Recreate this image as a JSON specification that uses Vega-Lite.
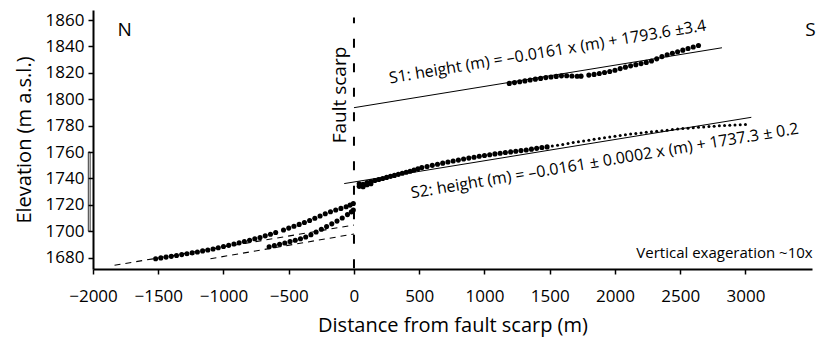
{
  "$schema": "https://vega.github.io/schema/vega-lite/v6.json",
  "width": 719,
  "height": 259,
  "autosize": "none",
  "padding": {"left": 93, "top": 10, "right": 6, "bottom": 73},
  "background": "white",
  "config": {
    "font": "Open Sans",
    "view": {"stroke": null},
    "axis": {
      "grid": false,
      "domainColor": "black",
      "domainWidth": 2,
      "tickColor": "black",
      "tickWidth": 1.5,
      "tickSize": 5,
      "labelColor": "black",
      "labelFont": "Open Sans",
      "labelFontSize": 17,
      "labelOverlap": false,
      "labelFlush": false,
      "titleColor": "black",
      "titleFont": "Open Sans",
      "titleFontSize": 20,
      "titleFontWeight": "normal"
    }
  },
  "datasets": {
    "pts": [
      {"set": "S1", "x": 1190, "y": 1812.0}, {"set": "S1", "x": 1230, "y": 1812.6}, {"set": "S1", "x": 1270, "y": 1813.3}, {"set": "S1", "x": 1310, "y": 1813.9},
      {"set": "S1", "x": 1350, "y": 1814.6}, {"set": "S1", "x": 1390, "y": 1815.2}, {"set": "S1", "x": 1430, "y": 1815.8}, {"set": "S1", "x": 1470, "y": 1816.4},
      {"set": "S1", "x": 1510, "y": 1816.9}, {"set": "S1", "x": 1550, "y": 1817.3}, {"set": "S1", "x": 1590, "y": 1817.7}, {"set": "S1", "x": 1630, "y": 1817.8},
      {"set": "S1", "x": 1670, "y": 1817.6}, {"set": "S1", "x": 1710, "y": 1817.4}, {"set": "S1", "x": 1740, "y": 1817.5}, {"set": "S1", "x": 1800, "y": 1818.3},
      {"set": "S1", "x": 1840, "y": 1818.8}, {"set": "S1", "x": 1880, "y": 1819.5}, {"set": "S1", "x": 1920, "y": 1820.2}, {"set": "S1", "x": 1960, "y": 1821.0},
      {"set": "S1", "x": 2000, "y": 1822.0}, {"set": "S1", "x": 2040, "y": 1823.2}, {"set": "S1", "x": 2080, "y": 1824.3}, {"set": "S1", "x": 2120, "y": 1825.3},
      {"set": "S1", "x": 2160, "y": 1826.2}, {"set": "S1", "x": 2200, "y": 1827.0}, {"set": "S1", "x": 2240, "y": 1827.9}, {"set": "S1", "x": 2280, "y": 1829.0},
      {"set": "S1", "x": 2320, "y": 1830.6}, {"set": "S1", "x": 2360, "y": 1832.3}, {"set": "S1", "x": 2400, "y": 1833.7}, {"set": "S1", "x": 2440, "y": 1834.8},
      {"set": "S1", "x": 2480, "y": 1836.0}, {"set": "S1", "x": 2520, "y": 1837.2}, {"set": "S1", "x": 2560, "y": 1838.4}, {"set": "S1", "x": 2600, "y": 1839.6},
      {"set": "S1", "x": 2640, "y": 1840.7},
      {"set": "S2", "x": 40, "y": 1734.0}, {"set": "S2", "x": 40, "y": 1736.0}, {"set": "S2", "x": 70, "y": 1735.5}, {"set": "S2", "x": 70, "y": 1733.8},
      {"set": "S2", "x": 100, "y": 1736.8}, {"set": "S2", "x": 100, "y": 1735.2}, {"set": "S2", "x": 130, "y": 1737.6}, {"set": "S2", "x": 130, "y": 1736.0},
      {"set": "S2", "x": 160, "y": 1738.4}, {"set": "S2", "x": 190, "y": 1739.2}, {"set": "S2", "x": 220, "y": 1740.0}, {"set": "S2", "x": 250, "y": 1740.8},
      {"set": "S2", "x": 280, "y": 1741.6}, {"set": "S2", "x": 310, "y": 1742.3}, {"set": "S2", "x": 340, "y": 1743.1}, {"set": "S2", "x": 370, "y": 1743.9},
      {"set": "S2", "x": 400, "y": 1744.7}, {"set": "S2", "x": 430, "y": 1745.5}, {"set": "S2", "x": 460, "y": 1746.4}, {"set": "S2", "x": 490, "y": 1747.3},
      {"set": "S2", "x": 520, "y": 1748.2}, {"set": "S2", "x": 560, "y": 1749.0}, {"set": "S2", "x": 600, "y": 1749.9}, {"set": "S2", "x": 640, "y": 1750.8},
      {"set": "S2", "x": 680, "y": 1751.6}, {"set": "S2", "x": 720, "y": 1752.4}, {"set": "S2", "x": 760, "y": 1753.2}, {"set": "S2", "x": 800, "y": 1753.9},
      {"set": "S2", "x": 840, "y": 1754.7}, {"set": "S2", "x": 880, "y": 1755.4}, {"set": "S2", "x": 920, "y": 1756.1}, {"set": "S2", "x": 960, "y": 1756.8},
      {"set": "S2", "x": 1000, "y": 1757.4}, {"set": "S2", "x": 1040, "y": 1758.0}, {"set": "S2", "x": 1080, "y": 1758.6}, {"set": "S2", "x": 1120, "y": 1759.1},
      {"set": "S2", "x": 1160, "y": 1759.6}, {"set": "S2", "x": 1200, "y": 1760.1}, {"set": "S2", "x": 1240, "y": 1760.6}, {"set": "S2", "x": 1280, "y": 1761.1},
      {"set": "S2", "x": 1320, "y": 1761.6}, {"set": "S2", "x": 1360, "y": 1762.2}, {"set": "S2", "x": 1400, "y": 1762.8}, {"set": "S2", "x": 1440, "y": 1763.4},
      {"set": "S2", "x": 1480, "y": 1763.9}, {"set": "S2", "x": 1520, "y": 1764.5}, {"set": "S2", "x": 1560, "y": 1765.1}, {"set": "S2", "x": 1600, "y": 1765.8},
      {"set": "S2", "x": 1640, "y": 1766.5}, {"set": "S2", "x": 1680, "y": 1767.2}, {"set": "S2", "x": 1720, "y": 1767.8}, {"set": "S2", "x": 1760, "y": 1768.4},
      {"set": "S2", "x": 1800, "y": 1769.0}, {"set": "S2", "x": 1840, "y": 1769.6}, {"set": "S2", "x": 1880, "y": 1770.2}, {"set": "S2", "x": 1920, "y": 1770.8},
      {"set": "S2", "x": 1960, "y": 1771.4}, {"set": "S2", "x": 2000, "y": 1772.0}, {"set": "S2", "x": 2040, "y": 1772.6}, {"set": "S2", "x": 2080, "y": 1773.1},
      {"set": "S2", "x": 2120, "y": 1773.6}, {"set": "S2", "x": 2160, "y": 1774.0}, {"set": "S2", "x": 2200, "y": 1774.4}, {"set": "S2", "x": 2240, "y": 1774.9},
      {"set": "S2", "x": 2280, "y": 1775.3}, {"set": "S2", "x": 2320, "y": 1775.8}, {"set": "S2", "x": 2360, "y": 1776.2}, {"set": "S2", "x": 2400, "y": 1776.6},
      {"set": "S2", "x": 2440, "y": 1777.0}, {"set": "S2", "x": 2480, "y": 1777.4}, {"set": "S2", "x": 2520, "y": 1777.8}, {"set": "S2", "x": 2560, "y": 1778.1},
      {"set": "S2", "x": 2600, "y": 1778.4}, {"set": "S2", "x": 2640, "y": 1778.7}, {"set": "S2", "x": 2680, "y": 1779.0}, {"set": "S2", "x": 2720, "y": 1779.3},
      {"set": "S2", "x": 2760, "y": 1779.6}, {"set": "S2", "x": 2800, "y": 1779.9}, {"set": "S2", "x": 2840, "y": 1780.1}, {"set": "S2", "x": 2880, "y": 1780.3},
      {"set": "S2", "x": 2920, "y": 1780.5}, {"set": "S2", "x": 2960, "y": 1780.7}, {"set": "S2", "x": 3000, "y": 1780.8},
      {"set": "L1", "x": -1520, "y": 1679.2}, {"set": "L1", "x": -1480, "y": 1679.8}, {"set": "L1", "x": -1440, "y": 1680.4}, {"set": "L1", "x": -1400, "y": 1681.0},
      {"set": "L1", "x": -1360, "y": 1681.6}, {"set": "L1", "x": -1320, "y": 1682.3}, {"set": "L1", "x": -1280, "y": 1682.9}, {"set": "L1", "x": -1240, "y": 1683.6},
      {"set": "L1", "x": -1200, "y": 1684.3}, {"set": "L1", "x": -1160, "y": 1685.1}, {"set": "L1", "x": -1120, "y": 1685.8}, {"set": "L1", "x": -1080, "y": 1686.6},
      {"set": "L1", "x": -1040, "y": 1687.5}, {"set": "L1", "x": -1000, "y": 1688.4}, {"set": "L1", "x": -960, "y": 1689.3}, {"set": "L1", "x": -920, "y": 1690.3},
      {"set": "L1", "x": -880, "y": 1691.2}, {"set": "L1", "x": -840, "y": 1692.2}, {"set": "L1", "x": -800, "y": 1693.2}, {"set": "L1", "x": -760, "y": 1694.3},
      {"set": "L1", "x": -720, "y": 1695.3}, {"set": "L1", "x": -680, "y": 1696.5}, {"set": "L1", "x": -640, "y": 1697.7}, {"set": "L1", "x": -600, "y": 1699.0},
      {"set": "L1", "x": -540, "y": 1701.0}, {"set": "L1", "x": -500, "y": 1702.4}, {"set": "L1", "x": -460, "y": 1703.8}, {"set": "L1", "x": -420, "y": 1705.2},
      {"set": "L1", "x": -380, "y": 1706.6}, {"set": "L1", "x": -340, "y": 1708.1}, {"set": "L1", "x": -300, "y": 1709.8}, {"set": "L1", "x": -260, "y": 1711.6},
      {"set": "L1", "x": -220, "y": 1713.3}, {"set": "L1", "x": -180, "y": 1714.8}, {"set": "L1", "x": -140, "y": 1716.1}, {"set": "L1", "x": -100, "y": 1717.3},
      {"set": "L1", "x": -60, "y": 1718.6}, {"set": "L1", "x": -30, "y": 1719.8}, {"set": "L1", "x": -5, "y": 1721.0},
      {"set": "L2", "x": -650, "y": 1688.2}, {"set": "L2", "x": -610, "y": 1689.1}, {"set": "L2", "x": -570, "y": 1690.1}, {"set": "L2", "x": -530, "y": 1691.1},
      {"set": "L2", "x": -490, "y": 1692.2}, {"set": "L2", "x": -450, "y": 1693.2}, {"set": "L2", "x": -410, "y": 1694.3}, {"set": "L2", "x": -370, "y": 1695.6},
      {"set": "L2", "x": -330, "y": 1697.3}, {"set": "L2", "x": -290, "y": 1699.4}, {"set": "L2", "x": -250, "y": 1701.5}, {"set": "L2", "x": -210, "y": 1703.6},
      {"set": "L2", "x": -170, "y": 1705.6}, {"set": "L2", "x": -130, "y": 1707.7}, {"set": "L2", "x": -90, "y": 1710.0}, {"set": "L2", "x": -50, "y": 1712.6},
      {"set": "L2", "x": -20, "y": 1714.7}, {"set": "L2", "x": -5, "y": 1716.0}
    ],
    "lines": [
      {"id": "S1fit", "kind": "fit", "x": 0, "y": 1793.6}, {"id": "S1fit", "kind": "fit", "x": 2820, "y": 1839.0},
      {"id": "S2fit", "kind": "fit", "x": -75, "y": 1736.1}, {"id": "S2fit", "kind": "fit", "x": 3045, "y": 1786.3},
      {"id": "D1", "kind": "dash", "x": -1835, "y": 1674.2}, {"id": "D1", "kind": "dash", "x": 0, "y": 1704.7},
      {"id": "D2", "kind": "dash", "x": -1100, "y": 1679.2}, {"id": "D2", "kind": "dash", "x": 0, "y": 1697.9},
      {"id": "scarp", "kind": "scarp", "x": 0, "y": 1672.0}, {"id": "scarp", "kind": "scarp", "x": 0, "y": 1862.0}
    ],
    "ann": [
      {"kind": "ns", "x": -1757, "y": 1852.6, "text": "N"},
      {"kind": "ns", "x": 3499, "y": 1852.6, "text": "S"},
      {"kind": "scarp", "x": -110, "y": 1803.2, "text": "Fault scarp"},
      {"kind": "eq", "x": 1484, "y": 1835.8, "text": "S1: height (m) = –0.0161 x (m) + 1793.6 ±3.4"},
      {"kind": "eq", "x": 1921, "y": 1753.2, "text": "S2: height (m) = –0.0161 ± 0.0002 x (m) + 1737.3 ± 0.2"},
      {"kind": "ve", "x": 3515, "y": 1679.7, "text": "Vertical exageration ~10x"}
    ],
    "bracket": [
      {"x": -2036, "x2": -2022, "y": 1700, "y2": 1760}
    ]
  },
  "encoding": {
    "x": {
      "field": "x", "type": "quantitative",
      "scale": {"domain": [-2000, 3510], "nice": false, "zero": false},
      "axis": {"values": [-2000, -1500, -1000, -500, 0, 500, 1000, 1500, 2000, 2500, 3000], "format": "d", "labelPadding": 14, "title": "Distance from fault scarp (m)", "titlePadding": 11}
    },
    "y": {
      "field": "y", "type": "quantitative",
      "scale": {"domain": [1671.4, 1867.6], "nice": false, "zero": false},
      "axis": {"values": [1680, 1700, 1720, 1740, 1760, 1780, 1800, 1820, 1840, 1860], "format": "d", "labelPadding": 4, "title": "Elevation (m a.s.l.)", "titlePadding": 11}
    }
  },
  "layer": [
    {
      "data": {"name": "bracket"},
      "mark": {"type": "rect", "fill": "transparent", "stroke": "black", "strokeWidth": 0.8},
      "encoding": {"x2": {"field": "x2"}, "y2": {"field": "y2"}}
    },
    {
      "data": {"name": "lines"},
      "transform": [{"filter": "datum.kind === 'fit'"}],
      "mark": {"type": "line", "color": "black", "strokeWidth": 1},
      "encoding": {"detail": {"field": "id"}, "order": {"value": null}}
    },
    {
      "data": {"name": "lines"},
      "transform": [{"filter": "datum.kind === 'dash'"}],
      "mark": {"type": "line", "color": "black", "strokeWidth": 1.1, "strokeDash": [6, 5]},
      "encoding": {"detail": {"field": "id"}, "order": {"value": null}}
    },
    {
      "data": {"name": "lines"},
      "transform": [{"filter": "datum.kind === 'scarp'"}],
      "mark": {"type": "line", "color": "black", "strokeWidth": 2, "strokeDash": [9, 15.5]},
      "encoding": {"detail": {"field": "id"}, "order": {"value": null}}
    },
    {
      "data": {"name": "pts"},
      "transform": [{"filter": "!(datum.set === 'S2' && datum.x > 1500)"}],
      "mark": {"type": "circle", "color": "black", "opacity": 1, "size": 26},
      "encoding": {}
    },
    {
      "data": {"name": "pts"},
      "transform": [{"filter": "datum.set === 'S2' && datum.x > 1500"}],
      "mark": {"type": "circle", "color": "black", "opacity": 1, "size": 9},
      "encoding": {}
    },
    {
      "data": {"name": "ann"},
      "transform": [{"filter": "datum.kind === 'ns'"}],
      "mark": {"type": "text", "font": "Open Sans", "fontSize": 19, "color": "black", "align": "center", "baseline": "middle"},
      "encoding": {"text": {"field": "text"}}
    },
    {
      "data": {"name": "ann"},
      "transform": [{"filter": "datum.kind === 'scarp'"}],
      "mark": {"type": "text", "font": "Open Sans", "fontSize": 19, "color": "black", "align": "center", "baseline": "middle", "angle": 270},
      "encoding": {"text": {"field": "text"}}
    },
    {
      "data": {"name": "ann"},
      "transform": [{"filter": "datum.kind === 'eq'"}],
      "mark": {"type": "text", "font": "Open Sans", "fontSize": 16, "color": "black", "align": "center", "baseline": "middle", "angle": 350.5},
      "encoding": {"text": {"field": "text"}}
    },
    {
      "data": {"name": "ann"},
      "transform": [{"filter": "datum.kind === 've'"}],
      "mark": {"type": "text", "font": "Open Sans", "fontSize": 15, "color": "black", "align": "right", "baseline": "alphabetic"},
      "encoding": {"text": {"field": "text"}}
    }
  ]
}
